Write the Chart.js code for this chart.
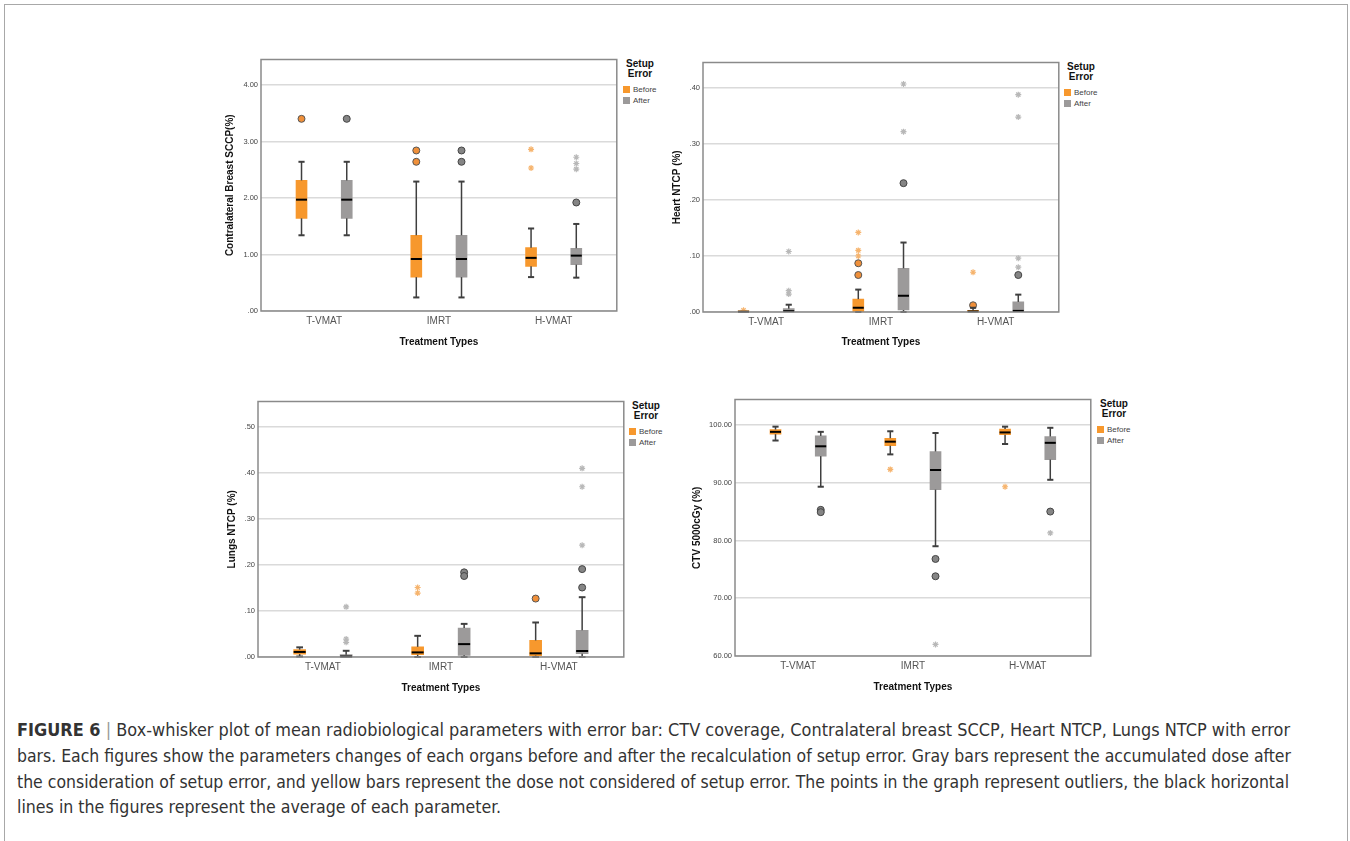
<!DOCTYPE html>
<html>
<head>
<meta charset="utf-8">
<script src="https://cdn.jsdelivr.net/npm/chart.js@4.4.1/dist/chart.umd.min.js"></script>
<style>
  body { margin: 0; width: 1350px; height: 841px; background: #fff; position: relative; overflow: hidden;
         font-family: "Liberation Sans", Arial, sans-serif; }
  #frame { position: absolute; left: 4px; top: 4px; width: 1344px; height: 860px; border: 1px solid #a8a8a8; box-sizing: border-box; }
  canvas { position: absolute; }
  .legend-cover { position: absolute; background: #fff; }
  .lg-title { position: absolute; font: bold 10px "Liberation Sans", Arial, sans-serif; color: #111; text-align: center; width: 40px; line-height: 10px; }
  .lg-sw { position: absolute; width: 7px; height: 7px; }
  .lg-txt { position: absolute; font: 8px "Liberation Sans", Arial, sans-serif; color: #444; line-height: 8px; }
  .cap { position: absolute; left: 17px; white-space: nowrap; font: 18px "Liberation Sans Narrow", "DejaVu Sans Condensed", "Liberation Sans", sans-serif;
         color: #333; line-height: 20px; transform-origin: 0 50%; }
  .cap .sep { color: #999; }
</style>
</head>
<body>
<div id="frame"></div>

<canvas id="sccpChart"></canvas>
<canvas id="heartChart"></canvas>
<canvas id="lungsChart"></canvas>
<canvas id="ctvChart"></canvas>

<div class="cap" data-w="1273" style="top:720px"><b>FIGURE 6</b> <span class="sep">|</span> Box-whisker plot of mean radiobiological parameters with error bar: CTV coverage, Contralateral breast SCCP, Heart NTCP, Lungs NTCP with error</div>
<div class="cap" data-w="1274" style="top:746px">bars. Each figures show the parameters changes of each organs before and after the recalculation of setup error. Gray bars represent the accumulated dose after</div>
<div class="cap" data-w="1272" style="top:772px">the consideration of setup error, and yellow bars represent the dose not considered of setup error. The points in the graph represent outliers, the black horizontal</div>
<div class="cap" style="top:797px">lines in the figures represent the average of each parameter.</div>

<script>
// ── Categories & legend ──
const categories = ['T-VMAT', 'IMRT', 'H-VMAT'];
const groups = ['Before', 'After'];

// ── Box stats per category: [lower whisker, Q1, median, Q3, upper whisker] ──
const sccpBefore = [[1.34, 1.64, 1.97, 2.31, 2.64], [0.24, 0.60, 0.92, 1.34, 2.29], [0.60, 0.79, 0.94, 1.12, 1.46]];
const sccpAfter  = [[1.34, 1.64, 1.97, 2.31, 2.64], [0.24, 0.60, 0.92, 1.34, 2.29], [0.59, 0.82, 0.98, 1.11, 1.54]];
const sccpBeforeOut = [[3.40], [2.84, 2.64], []];
const sccpBeforeExt = [[], [], [2.86, 2.53]];
const sccpAfterOut  = [[3.40], [2.84, 2.64], [1.92]];
const sccpAfterExt  = [[], [], [2.72, 2.61, 2.51]];
const sccpTicks = [0, 1, 2, 3, 4];

const heartBefore = [[0, 0, 0.0005, 0.002, 0.002], [0, 0.0006, 0.0076, 0.023, 0.040], [0, 0, 0.001, 0.003, 0.0076]];
const heartAfter  = [[0, 0, 0.0015, 0.006, 0.013], [0, 0.0035, 0.029, 0.078, 0.124], [0, 0, 0.002, 0.018, 0.031]];
const heartBeforeOut = [[], [0.087, 0.066], [0.012]];
const heartBeforeExt = [[0.003], [0.142, 0.110, 0.100], [0.071]];
const heartAfterOut  = [[], [0.230], [0.066]];
const heartAfterExt  = [[0.108, 0.038, 0.032], [0.322, 0.407], [0.080, 0.096, 0.348, 0.388]];
const heartTicks = [0, 0.1, 0.2, 0.3, 0.4];

const lungsBefore = [[0.001, 0.0064, 0.011, 0.016, 0.021], [0, 0.005, 0.010, 0.022, 0.046], [0, 0.003, 0.008, 0.036, 0.075]];
const lungsAfter  = [[0, 0, 0.001, 0.005, 0.0135], [0, 0.0036, 0.028, 0.063, 0.072], [0, 0.007, 0.013, 0.058, 0.130]];
const lungsBeforeOut = [[], [], [0.127]];
const lungsBeforeExt = [[], [0.151, 0.139], []];
const lungsAfterOut  = [[], [0.184, 0.176], [0.191, 0.151]];
const lungsAfterExt  = [[0.109, 0.039, 0.032], [], [0.243, 0.370, 0.410]];
const lungsTicks = [0, 0.1, 0.2, 0.3, 0.4, 0.5];

const ctvBefore = [[97.3, 98.4, 98.8, 99.2, 99.7], [94.9, 96.4, 97.1, 97.7, 98.9], [96.7, 98.3, 98.7, 99.3, 99.7]];
const ctvAfter  = [[89.3, 94.6, 96.3, 98.1, 98.8], [79.0, 88.8, 92.2, 95.4, 98.6], [90.5, 94.0, 96.9, 98.0, 99.5]];
const ctvBeforeOut = [[], [], []];
const ctvBeforeExt = [[], [92.3], [89.3]];
const ctvAfterOut  = [[85.3, 84.9], [76.8, 73.8], [85.0]];
const ctvAfterExt  = [[], [62.0], [81.3]];
const ctvTicks = [60, 70, 80, 90, 100];

// ── Styles ──
const ORANGE = '#f7982d';
const GRAY = '#9c9a9a';
const SHIFT = 0.197;          // box offset from category centre (category units)

Chart.defaults.font.family = '"Liberation Sans", Arial, sans-serif';
Chart.defaults.animation = false;

const fmt = v => v.toFixed(2).replace(/^0\./, '.');

// ── Whiskers + medians drawn from each box dataset's stats ──
const boxExtras = {
  id: 'boxExtras',
  afterDatasetsDraw(chart) {
    const ctx = chart.ctx;
    const y = chart.scales.y;
    chart.data.datasets.forEach((ds, di) => {
      if (!ds.stats) return;
      const meta = chart.getDatasetMeta(di);
      meta.data.forEach((bar, i) => {
        const [lo, q1, med, q3, hi] = ds.stats[i];
        const cap = bar.width * 0.28;
        ctx.save();
        ctx.strokeStyle = '#3f3f3f';
        ctx.lineWidth = 1.5;
        if (hi > q3) {
          ctx.beginPath();
          ctx.moveTo(bar.x, y.getPixelForValue(q3));
          ctx.lineTo(bar.x, y.getPixelForValue(hi));
          ctx.stroke();
          ctx.lineWidth = 2;
          ctx.beginPath();
          ctx.moveTo(bar.x - cap, y.getPixelForValue(hi));
          ctx.lineTo(bar.x + cap, y.getPixelForValue(hi));
          ctx.stroke();
        }
        if (lo < q1) {
          ctx.lineWidth = 1.5;
          ctx.beginPath();
          ctx.moveTo(bar.x, y.getPixelForValue(q1));
          ctx.lineTo(bar.x, y.getPixelForValue(lo));
          ctx.stroke();
          ctx.lineWidth = 2;
          ctx.beginPath();
          ctx.moveTo(bar.x - cap, y.getPixelForValue(lo));
          ctx.lineTo(bar.x + cap, y.getPixelForValue(lo));
          ctx.stroke();
        }
        ctx.strokeStyle = '#000';
        ctx.lineWidth = 2;
        ctx.beginPath();
        ctx.moveTo(bar.x - bar.width / 2, y.getPixelForValue(med));
        ctx.lineTo(bar.x + bar.width / 2, y.getPixelForValue(med));
        ctx.stroke();
        ctx.restore();
      });
    });
  },
  afterDraw(chart) {
    const a = chart.chartArea;
    const ctx = chart.ctx;
    ctx.save();
    ctx.strokeStyle = '#8a8a8a';
    ctx.lineWidth = 1.5;
    ctx.strokeRect(a.left, a.top, a.right - a.left, a.bottom - a.top);
    ctx.restore();
  }
};

function boxSet(label, stats, shift, color, thick) {
  return {
    label, type: 'bar', stats,
    data: stats.map((s, i) => ({ x: i + shift, y: [s[1], s[3]] })),
    backgroundColor: color, borderWidth: 0,
    grouped: false, barThickness: thick, maxBarThickness: thick, order: 2
  };
}

function pointSet(vals, shift, style, fill, border) {
  return {
    type: 'scatter',
    data: vals.flatMap((list, i) => list.map(v => ({ x: i + shift, y: v }))),
    pointStyle: style,
    pointRadius: style === 'circle' ? 3.5 : 3,
    backgroundColor: fill, borderColor: border,
    borderWidth: style === 'circle' ? 1 : 1.2, order: 1
  };
}

function makePanel(p) {
  const cv = document.getElementById(p.id);
  cv.width = p.w; cv.height = p.h;
  cv.style.left = p.left + 'px'; cv.style.top = p.top + 'px';
  new Chart(cv, {
    type: 'bar',
    data: {
      datasets: [
        boxSet(groups[0], p.before, -SHIFT, ORANGE, p.thick),
        boxSet(groups[1], p.after, SHIFT, GRAY, p.thick),
        pointSet(p.beforeOut, -SHIFT, 'circle', '#f0903a', '#555'),
        pointSet(p.afterOut, SHIFT, 'circle', '#858585', '#444'),
        pointSet(p.beforeExt, -SHIFT, 'star', '#f6b46e', '#f6b46e'),
        pointSet(p.afterExt, SHIFT, 'star', '#b8b8b8', '#b8b8b8')
      ]
    },
    options: {
      responsive: false,
      layout: { padding: { top: 2, right: 2, left: 0, bottom: 0 } },
      plugins: { legend: { display: false }, tooltip: { enabled: false } },
      scales: {
        x: {
          type: 'linear', min: -0.55, max: 2.55, offset: false,
          grid: { display: false, drawTicks: false }, border: { display: false },
          afterBuildTicks: s => { s.ticks = categories.map((c, i) => ({ value: i })); },
          afterFit: s => { s.height = p.xh; },
          ticks: { callback: v => categories[v], color: '#555', font: { size: 10 }, padding: 4, maxRotation: 0 },
          title: { display: true, text: 'Treatment Types', color: '#111', font: { size: 10, weight: 'bold' }, padding: { top: 4, bottom: 4 } }
        },
        y: {
          min: p.min, max: p.max,
          grid: { color: '#dadada', lineWidth: 1.5, drawTicks: false },
          border: { display: false },
          afterBuildTicks: s => { s.ticks = p.ticks.map(v => ({ value: v })); },
          afterFit: s => { s.width = p.yw; },
          ticks: { callback: v => fmt(v), color: '#444', font: { size: 7.5 }, padding: 3 },
          title: { display: true, text: p.ytitle, color: '#111', font: { size: 10, weight: 'bold' }, padding: { top: 4, bottom: 4 } }
        }
      }
    },
    plugins: [boxExtras]
  });
}

makePanel({ id: 'sccpChart', left: 220, top: 52, w: 402, h: 300, yw: 41, xh: 41, thick: 11,
  min: 0, max: 4.45, ticks: sccpTicks, ytitle: 'Contralateral Breast SCCP(%)',
  before: sccpBefore, after: sccpAfter, beforeOut: sccpBeforeOut, beforeExt: sccpBeforeExt, afterOut: sccpAfterOut, afterExt: sccpAfterExt });

makePanel({ id: 'heartChart', left: 667, top: 55, w: 397, h: 297, yw: 36, xh: 40, thick: 11,
  min: 0, max: 0.4454, ticks: heartTicks, ytitle: 'Heart NTCP (%)',
  before: heartBefore, after: heartAfter, beforeOut: heartBeforeOut, beforeExt: heartBeforeExt, afterOut: heartAfterOut, afterExt: heartAfterExt });

makePanel({ id: 'lungsChart', left: 222, top: 394, w: 407, h: 304, yw: 36, xh: 41, thick: 12,
  min: 0, max: 0.5553, ticks: lungsTicks, ytitle: 'Lungs NTCP (%)',
  before: lungsBefore, after: lungsAfter, beforeOut: lungsBeforeOut, beforeExt: lungsBeforeExt, afterOut: lungsAfterOut, afterExt: lungsAfterExt });

makePanel({ id: 'ctvChart', left: 687, top: 392, w: 409, h: 305, yw: 48, xh: 41, thick: 11,
  min: 60, max: 104.4, ticks: ctvTicks, ytitle: 'CTV 5000cGy (%)',
  before: ctvBefore, after: ctvAfter, beforeOut: ctvBeforeOut, beforeExt: ctvBeforeExt, afterOut: ctvAfterOut, afterExt: ctvAfterExt });

// ── HTML legends (white block overlaps the plot's right border like the original) ──
function placeLegend(x0, y0) {
  const add = (cls, css, text) => {
    const d = document.createElement('div');
    d.className = cls;
    Object.assign(d.style, css);
    if (text) d.textContent = text;
    document.body.appendChild(d);
  };
  add('legend-cover', { left: (x0 - 4) + 'px', top: (y0 - 8) + 'px', width: '44px', height: '52px' });
  add('lg-title', { left: (x0 - 3) + 'px', top: (y0 - 5) + 'px' }, 'Setup');
  add('lg-title', { left: (x0 - 3) + 'px', top: (y0 + 5) + 'px' }, 'Error');
  add('lg-sw', { left: x0 + 'px', top: (y0 + 22) + 'px', background: ORANGE });
  add('lg-txt', { left: (x0 + 10) + 'px', top: (y0 + 21.5) + 'px' }, groups[0]);
  add('lg-sw', { left: x0 + 'px', top: (y0 + 33) + 'px', background: GRAY });
  add('lg-txt', { left: (x0 + 10) + 'px', top: (y0 + 32.5) + 'px' }, groups[1]);
}
placeLegend(623, 64);
placeLegend(1064, 67);
placeLegend(629, 406);
placeLegend(1097, 404);

// ── Fit justified caption lines; the last line reuses their average squeeze ──
let squeeze = [];
document.querySelectorAll('.cap').forEach(el => {
  const w = el.getBoundingClientRect().width;
  const k = el.dataset.w ? +el.dataset.w / w : squeeze.reduce((a, b) => a + b, 0) / squeeze.length;
  if (el.dataset.w) squeeze.push(k);
  el.style.transform = 'scaleX(' + k + ')';
});
</script>
</body>
</html>
